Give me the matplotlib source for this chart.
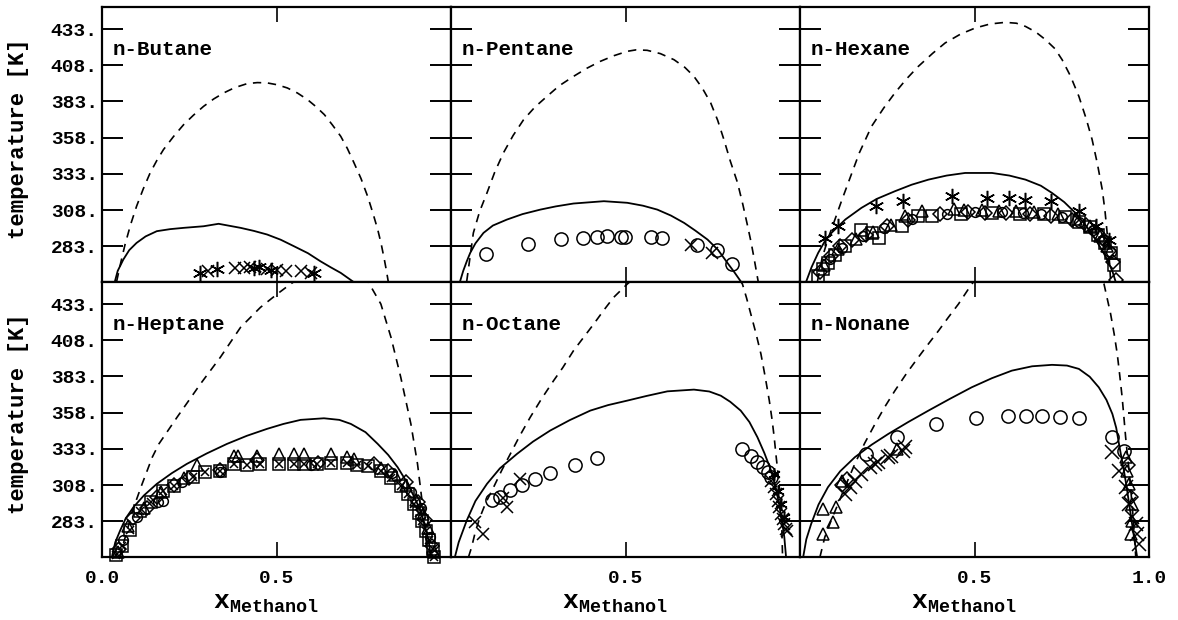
import matplotlib
matplotlib.use('Agg')
import matplotlib.pyplot as plt

plt.rcParams['font.family'] = ['Liberation Mono', 'DejaVu Sans']
plt.rcParams['font.weight'] = 'bold'
plt.rcParams['mathtext.fontset'] = 'custom'
plt.rcParams['mathtext.rm'] = 'Liberation Mono:bold'
plt.rcParams['mathtext.bf'] = 'Liberation Mono:bold'
plt.rcParams['mathtext.it'] = 'Liberation Mono:bold'

# ---------------------------------------------------------------- data
names = ['n-Butane', 'n-Pentane', 'n-Hexane', 'n-Heptane', 'n-Octane', 'n-Nonane']
yticks = [283, 308, 333, 358, 383, 408, 433]

# n-Butane
but_solid_x = [0.037, 0.045, 0.061, 0.078, 0.099, 0.125, 0.157, 0.195, 0.234, 0.291, 0.334, 0.397,
               0.435, 0.473, 0.512, 0.550, 0.590, 0.626, 0.655, 0.684, 0.718]
but_solid_T = [258.8, 266.0, 273.8, 280.3, 285.3, 289.8, 293.4, 294.8, 295.7, 296.8, 298.5, 295.7,
               293.6, 291.1, 287.5, 283.0, 278.2, 272.6, 268.5, 264.6, 258.8]
but_dash_x = [0.042, 0.054, 0.066, 0.082, 0.099, 0.118, 0.138, 0.157, 0.176, 0.205, 0.234, 0.262,
              0.291, 0.320, 0.349, 0.380, 0.416, 0.445, 0.473, 0.502, 0.531, 0.560, 0.589, 0.613,
              0.637, 0.660, 0.684, 0.703, 0.722, 0.742, 0.761, 0.776, 0.790, 0.800, 0.809, 0.815, 0.820]
but_dash_T = [258.8, 272.0, 284.2, 298.0, 310.6, 322.5, 333.7, 342.2, 349.7, 358.8, 367.0, 373.5,
              379.6, 384.7, 388.9, 392.5, 395.3, 396.0, 395.8, 394.5, 392.3, 388.8, 384.2, 379.4,
              373.9, 366.8, 358.9, 350.5, 340.6, 329.8, 317.5, 306.0, 294.5, 284.5, 273.8, 266.0, 258.8]
but_star_x = [0.282, 0.330, 0.435, 0.449, 0.483, 0.607]
but_star_T = [264.6, 267.4, 268.1, 268.5, 266.4, 264.2]
but_x_x = [0.305, 0.382, 0.406, 0.425, 0.473, 0.502, 0.526, 0.569, 0.598]
but_x_T = [265.8, 268.1, 268.1, 268.5, 267.4, 266.4, 265.8, 265.8, 264.6]

# n-Pentane
pen_solid_x = [0.026, 0.035, 0.045, 0.055, 0.070, 0.093, 0.120, 0.160, 0.205, 0.256, 0.300, 0.351,
               0.438, 0.505, 0.550, 0.591, 0.630, 0.668, 0.700, 0.735, 0.765, 0.792, 0.812, 0.830]
pen_solid_T = [258.8, 266.0, 272.5, 278.4, 285.0, 292.2, 297.3, 301.4, 305.2, 308.3, 310.5, 312.5,
               314.1, 313.0, 311.0, 308.3, 304.2, 299.1, 293.8, 287.6, 280.5, 271.5, 265.0, 258.8]
pen_dash_x = [0.045, 0.064, 0.082, 0.103, 0.125, 0.150, 0.178, 0.208, 0.240, 0.275, 0.310, 0.351,
              0.390, 0.428, 0.467, 0.505, 0.530, 0.562, 0.600, 0.639, 0.670, 0.696, 0.720, 0.744,
              0.764, 0.782, 0.800, 0.821, 0.836, 0.850, 0.860, 0.869, 0.880]
pen_dash_T = [258.8, 292.2, 307.0, 319.8, 334.0, 347.4, 359.5, 370.4, 379.0, 386.5, 393.8, 400.3,
              406.0, 410.7, 414.6, 417.6, 418.6, 418.3, 416.0, 411.8, 406.5, 400.3, 392.2, 382.0,
              370.0, 356.6, 342.0, 326.8, 312.0, 296.8, 285.5, 273.8, 258.8]
pen_circ_x = [0.100, 0.220, 0.316, 0.378, 0.419, 0.447, 0.486, 0.498, 0.572, 0.605, 0.706, 0.761, 0.805]
pen_circ_T = [277.7, 284.6, 288.3, 288.8, 289.2, 289.9, 289.5, 289.5, 289.2, 288.8, 284.2, 280.7, 270.4]
pen_x_x = [0.687, 0.749]
pen_x_T = [284.2, 278.4]

# n-Hexane
hex_solid_x = [0.018, 0.033, 0.052, 0.070, 0.090, 0.130, 0.176, 0.220, 0.272, 0.320, 0.368, 0.420,
               0.473, 0.550, 0.600, 0.646, 0.690, 0.722, 0.757, 0.789, 0.820, 0.847, 0.868, 0.885,
               0.896, 0.904]
hex_solid_T = [258.8, 268.5, 278.4, 286.0, 292.2, 301.5, 309.5, 315.7, 321.0, 325.5, 329.0, 331.8,
               333.6, 333.6, 331.8, 329.0, 324.8, 319.8, 313.5, 306.0, 297.0, 287.6, 279.2, 271.5,
               265.0, 258.8]
hex_dash_x = [0.050, 0.056, 0.063, 0.080, 0.100, 0.120, 0.140, 0.170, 0.205, 0.240, 0.272, 0.305,
              0.339, 0.380, 0.416, 0.460, 0.502, 0.545, 0.588, 0.620, 0.646, 0.675, 0.703, 0.730,
              0.751, 0.775, 0.799, 0.820, 0.837, 0.852, 0.866, 0.874, 0.880, 0.886, 0.890]
hex_dash_T = [258.8, 266.0, 274.5, 288.0, 301.4, 315.0, 328.0, 347.5, 365.8, 378.5, 388.9, 398.5,
              407.2, 416.2, 423.4, 429.5, 433.7, 436.5, 437.6, 437.0, 434.8, 431.0, 425.7, 419.5,
              411.8, 400.5, 386.5, 371.0, 356.6, 340.0, 322.1, 307.0, 292.2, 275.0, 258.8]
hex_star_x = [0.071, 0.109, 0.219, 0.296, 0.435, 0.535, 0.598, 0.646, 0.718, 0.799, 0.847, 0.885]
hex_star_T = [288.8, 296.8, 310.6, 314.1, 317.5, 316.4, 316.4, 315.2, 314.1, 307.2, 296.8, 287.6]
hex_sq_x = [0.052, 0.066, 0.080, 0.100, 0.128, 0.176, 0.205, 0.225, 0.291, 0.339, 0.377, 0.460,
            0.550, 0.630, 0.700, 0.760, 0.800, 0.830, 0.855, 0.875, 0.890, 0.900]
hex_sq_T = [262.3, 267.0, 271.5, 277.0, 283.0, 294.5, 292.0, 289.0, 296.8, 303.7, 303.7, 305.5,
            306.0, 305.5, 305.0, 303.0, 300.0, 296.0, 291.0, 285.0, 278.0, 270.0]
hex_dia_x = [0.058, 0.090, 0.114, 0.150, 0.190, 0.250, 0.310, 0.400, 0.480, 0.530, 0.590, 0.660,
             0.720, 0.780, 0.820, 0.850, 0.870, 0.885, 0.897, 0.904]
hex_dia_T = [265.0, 276.0, 283.0, 287.0, 291.0, 297.0, 301.0, 305.0, 306.5, 306.0, 306.0, 305.0,
             304.0, 301.0, 297.5, 292.0, 287.0, 280.0, 272.0, 260.0]
hex_tri_x = [0.070, 0.110, 0.160, 0.210, 0.260, 0.300, 0.350, 0.440, 0.470, 0.520, 0.570, 0.620,
             0.670, 0.740, 0.790, 0.830, 0.860, 0.880]
hex_tri_T = [270.0, 281.0, 288.0, 293.0, 298.0, 304.0, 307.0, 308.5, 308.0, 308.0, 307.5, 307.0,
             306.5, 305.0, 302.0, 297.0, 290.0, 283.0]
hex_circ_x = [0.085, 0.120, 0.180, 0.240, 0.320, 0.420, 0.500, 0.580, 0.640, 0.690, 0.750, 0.800,
              0.840, 0.870, 0.890]
hex_circ_T = [274.0, 282.0, 290.0, 295.5, 302.0, 305.5, 306.5, 306.5, 306.0, 305.0, 303.0, 300.0,
              294.0, 287.0, 279.0]

# n-Heptane
hep_solid_x = [0.028, 0.038, 0.052, 0.068, 0.090, 0.120, 0.157, 0.200, 0.243, 0.300, 0.358, 0.415,
               0.473, 0.520, 0.569, 0.636, 0.680, 0.713, 0.755, 0.790, 0.820, 0.847, 0.872, 0.895,
               0.912, 0.924, 0.935, 0.943]
hep_solid_T = [258.0, 268.5, 276.6, 285.0, 292.7, 300.8, 308.8, 316.2, 322.6, 329.8, 336.4, 342.0,
               346.8, 350.2, 353.0, 354.1, 353.0, 350.2, 344.5, 336.4, 328.8, 320.3, 310.5, 299.6,
               290.5, 281.2, 270.5, 258.0]
hep_dash_x = [0.050, 0.060, 0.070, 0.091, 0.115, 0.144, 0.163, 0.215, 0.282, 0.339, 0.397, 0.454,
              0.502, 0.540, 0.580, 0.640, 0.700, 0.735, 0.761, 0.799, 0.828, 0.856, 0.885, 0.904,
              0.918, 0.928, 0.933]
hep_dash_T = [258.0, 266.5, 275.0, 292.7, 308.8, 327.2, 336.4, 354.8, 377.8, 396.2, 416.9, 430.7,
              439.9, 446.8, 453.0, 456.0, 455.0, 452.5, 449.0, 433.0, 410.0, 382.4, 350.2, 322.6,
              295.0, 272.0, 258.0]
hep_sq_x = [0.040, 0.057, 0.080, 0.109, 0.140, 0.176, 0.205, 0.262, 0.296, 0.339, 0.377, 0.416,
            0.454, 0.507, 0.550, 0.580, 0.617, 0.655, 0.703, 0.732, 0.761, 0.799, 0.828, 0.856,
            0.876, 0.895, 0.909, 0.918, 0.928, 0.937, 0.947, 0.951]
hep_sq_T = [259.5, 266.0, 277.0, 290.4, 296.0, 304.2, 307.5, 313.5, 316.8, 318.0, 322.6, 321.5,
            322.6, 322.6, 322.6, 322.6, 322.6, 323.5, 323.0, 322.0, 321.0, 318.0, 313.0, 307.0,
            301.5, 295.0, 289.0, 283.0, 276.0, 270.0, 263.5, 258.5]
hep_tri_x = [0.045, 0.075, 0.120, 0.170, 0.235, 0.272, 0.377, 0.391, 0.444, 0.507, 0.550, 0.579,
             0.655, 0.703, 0.722, 0.800, 0.840, 0.870, 0.900, 0.920, 0.935, 0.950]
hep_tri_T = [262.0, 280.0, 292.0, 303.0, 313.0, 321.5, 328.3, 328.3, 328.3, 329.5, 329.5, 329.5,
             329.5, 327.2, 326.1, 320.0, 315.0, 308.0, 298.0, 288.0, 278.0, 262.0]
hep_dia_x = [0.050, 0.090, 0.128, 0.157, 0.205, 0.250, 0.339, 0.444, 0.620, 0.780, 0.820, 0.870, 0.905, 0.925, 0.945]
hep_dia_T = [264.0, 285.0, 292.0, 299.6, 308.0, 313.0, 318.5, 325.5, 323.5, 322.6, 318.0, 310.0, 296.0, 284.0, 266.0]
hep_circ_x = [0.060, 0.100, 0.160, 0.176, 0.230, 0.339, 0.600, 0.830, 0.885, 0.915, 0.940]
hep_circ_T = [270.0, 286.0, 296.0, 297.3, 310.0, 317.0, 322.0, 316.0, 303.0, 292.0, 272.0]

# n-Octane
oct_solid_x = [0.011, 0.022, 0.045, 0.070, 0.103, 0.140, 0.189, 0.235, 0.284, 0.340, 0.399, 0.450,
               0.505, 0.560, 0.620, 0.696, 0.740, 0.773, 0.800, 0.830, 0.855, 0.878, 0.898, 0.917,
               0.930, 0.940, 0.948, 0.955, 0.960]
oct_solid_T = [258.2, 268.5, 283.5, 297.0, 308.8, 319.5, 329.5, 338.0, 345.6, 352.8, 359.4, 363.2,
               366.3, 369.5, 372.7, 373.9, 372.6, 369.7, 365.5, 359.4, 351.5, 341.0, 330.0, 318.0,
               306.5, 295.0, 283.5, 272.0, 258.2]
oct_dash_x = [0.050, 0.059, 0.070, 0.083, 0.100, 0.122, 0.145, 0.170, 0.197, 0.227, 0.260, 0.294,
              0.320, 0.351, 0.380, 0.409, 0.437, 0.466, 0.505, 0.560, 0.650, 0.700, 0.780, 0.810,
              0.835, 0.847, 0.859, 0.874, 0.888, 0.900, 0.912, 0.920, 0.926, 0.931, 0.936, 0.941,
              0.945, 0.948, 0.950]
oct_dash_T = [258.2, 265.1, 276.0, 285.8, 296.0, 306.5, 318.0, 329.5, 342.0, 354.8, 367.8, 380.1,
              389.0, 400.8, 410.0, 419.2, 428.5, 437.6, 446.8, 458.0, 468.0, 469.0, 462.0, 455.5,
              446.8, 437.0, 426.1, 412.5, 398.5, 383.0, 366.3, 353.0, 341.0, 329.0, 318.0, 306.0,
              295.0, 277.0, 258.2]
oct_circ_x = [0.117, 0.141, 0.170, 0.203, 0.241, 0.284, 0.356, 0.419, 0.835, 0.859, 0.878, 0.893,
              0.907, 0.917]
oct_circ_T = [297.7, 300.0, 304.5, 308.0, 312.3, 316.0, 322.0, 326.5, 333.0, 328.3, 323.7, 320.3,
              316.8, 313.4]
oct_x_x = [0.069, 0.093, 0.150, 0.160, 0.198, 0.917, 0.926, 0.931, 0.936, 0.940, 0.945, 0.950,
           0.955, 0.960, 0.963]
oct_x_T = [282.3, 274.3, 299.0, 292.7, 312.0, 311.1, 306.5, 301.9, 297.3, 292.7, 288.1, 284.7,
           281.2, 277.8, 276.6]
oct_star_x = [0.926, 0.936, 0.945, 0.955]
oct_star_T = [315.7, 304.0, 295.0, 286.0]

# n-Nonane
non_solid_x = [0.009, 0.018, 0.032, 0.053, 0.080, 0.115, 0.157, 0.205, 0.253, 0.310, 0.368, 0.430,
               0.492, 0.550, 0.607, 0.665, 0.722, 0.765, 0.799, 0.830, 0.856, 0.878, 0.895, 0.906,
               0.914, 0.921, 0.928, 0.936, 0.943, 0.950, 0.957, 0.966]
non_solid_T = [258.2, 270.5, 281.2, 294.5, 306.5, 317.5, 327.2, 335.8, 343.3, 351.5, 359.4, 367.6,
               375.5, 381.8, 387.0, 390.0, 391.0, 390.5, 388.2, 382.8, 375.5, 366.8, 357.1, 347.5,
               336.4, 327.0, 318.0, 306.5, 295.0, 283.5, 272.0, 258.2]
non_dash_x = [0.057, 0.071, 0.090, 0.109, 0.133, 0.157, 0.185, 0.215, 0.243, 0.272, 0.305, 0.339,
              0.368, 0.397, 0.425, 0.454, 0.492, 0.550, 0.650, 0.750, 0.820, 0.871, 0.880, 0.890,
              0.900, 0.909, 0.916, 0.923, 0.928, 0.933, 0.938, 0.943, 0.948, 0.953, 0.958, 0.962]
non_dash_T = [258.2, 272.0, 284.0, 295.0, 309.0, 322.6, 336.8, 350.2, 362.0, 373.2, 385.0, 396.2,
              405.5, 414.6, 423.8, 433.0, 446.8, 462.0, 476.0, 476.0, 464.0, 446.8, 437.0, 426.1,
              412.5, 398.5, 384.0, 368.6, 355.0, 341.0, 329.0, 318.0, 304.0, 290.0, 274.0, 258.2]
non_circ_x = [0.188, 0.277, 0.389, 0.504, 0.596, 0.647, 0.693, 0.746, 0.799, 0.895, 0.928]
non_circ_T = [329.5, 341.0, 350.2, 354.4, 355.5, 355.9, 355.5, 354.8, 354.1, 341.5, 331.8]
non_tri_x = [0.066, 0.095, 0.066, 0.104, 0.119, 0.277, 0.947, 0.952, 0.952, 0.943, 0.938, 0.933]
non_tri_T = [274.3, 282.3, 291.6, 292.7, 311.1, 333.0, 274.3, 283.5, 295.0, 308.8, 318.0, 327.2]
non_x_x = [0.128, 0.143, 0.157, 0.176, 0.200, 0.215, 0.224, 0.253, 0.262, 0.296, 0.301, 0.895,
           0.914, 0.933, 0.943, 0.952, 0.962, 0.966, 0.971]
non_x_T = [301.9, 306.5, 311.1, 315.7, 320.3, 322.6, 323.7, 327.2, 328.3, 331.8, 334.1, 330.6,
           318.0, 306.5, 295.0, 285.8, 281.2, 274.3, 267.4]
non_sq_x = [0.120, 0.135, 0.940, 0.948]
non_sq_T = [308.0, 312.0, 322.0, 300.0]

# ---------------------------------------------------------------- plotting
STAR = (6, 2, 0)
panels = [
    (but_solid_x, but_solid_T, but_dash_x, but_dash_T,
     [(but_star_x, but_star_T, STAR, 11), (but_x_x, but_x_T, 'x', 9)]),
    (pen_solid_x, pen_solid_T, pen_dash_x, pen_dash_T,
     [(pen_circ_x, pen_circ_T, 'o', 9.5), (pen_x_x, pen_x_T, 'x', 9)]),
    (hex_solid_x, hex_solid_T, hex_dash_x, hex_dash_T,
     [(hex_sq_x, hex_sq_T, 's', 8), (hex_dia_x, hex_dia_T, 'D', 7), (hex_tri_x, hex_tri_T, '^', 8),
      (hex_circ_x, hex_circ_T, 'o', 7), (hex_star_x, hex_star_T, STAR, 11)]),
    (hep_solid_x, hep_solid_T, hep_dash_x, hep_dash_T,
     [(hep_sq_x, hep_sq_T, 's', 8), (hep_sq_x, hep_sq_T, 'x', 6), (hep_dia_x, hep_dia_T, 'D', 7),
      (hep_tri_x, hep_tri_T, '^', 9), (hep_circ_x, hep_circ_T, 'o', 7)]),
    (oct_solid_x, oct_solid_T, oct_dash_x, oct_dash_T,
     [(oct_circ_x, oct_circ_T, 'o', 9.5), (oct_x_x, oct_x_T, 'x', 9), (oct_star_x, oct_star_T, STAR, 9)]),
    (non_solid_x, non_solid_T, non_dash_x, non_dash_T,
     [(non_circ_x, non_circ_T, 'o', 9.5), (non_tri_x, non_tri_T, '^', 9), (non_x_x, non_x_T, 'x', 10),
      (non_sq_x, non_sq_T, 'D', 7)]),
]

fig, axes = plt.subplots(2, 3, figsize=(11.78, 6.2), dpi=100)
fig.subplots_adjust(left=0.0866, right=0.9754, top=0.9887, bottom=0.1016, wspace=0, hspace=0)

for i, ax in enumerate(axes.flat):
    sx, sT, dx, dT, marks = panels[i]
    ax.plot(sx, sT, color='black', lw=1.3, solid_joinstyle='round')
    ax.plot(dx, dT, color='black', lw=1.2, dashes=(5, 4))
    for mx, mT, m, ms in marks:
        ax.plot(mx, mT, ls='none', marker=m, ms=ms, mfc='none', mec='black', mew=1.1, clip_on=False)

    ax.set_xlim(0, 1)
    ax.set_ylim(258.3, 448.2)
    ax.text(0.03, 0.825, names[i], transform=ax.transAxes, fontsize=15, fontweight='bold', va='baseline')

    for s in ax.spines.values():
        s.set_linewidth(1.6)
    ax.set_yticks(yticks)
    ax.set_xticks([0.0, 0.5, 1.0])
    ax.tick_params(axis='y', direction='in', length=15, width=1.4, left=True, right=True, labelsize=14, pad=3)
    ax.tick_params(axis='x', direction='in', length=11, width=1.2, top=True, bottom=True, labelsize=14, pad=9)

    col = i % 3
    row = i // 3
    if col == 0:
        ax.set_yticklabels([str(t) + '.' for t in yticks])
    else:
        ax.set_yticklabels([])
    if row == 1:
        if col == 0:
            ax.set_xticklabels(['0.0', '0.5', ''])
        elif col == 1:
            ax.set_xticklabels(['', '0.5', ''])
        else:
            ax.set_xticklabels(['', '0.5', '1.0'])
        pos = ax.get_position()
        fig.text(pos.x0 + pos.width / 2 - 0.009, 0.027, r'$\mathrm{x}_{\mathrm{Methanol}}$',
                 fontsize=19, ha='center', va='center')
    else:
        ax.set_xticklabels([])
    if col == 0:
        pos = ax.get_position()
        fig.text(0.0155, pos.y0 + pos.height / 2 + 0.01, 'temperature [K]', rotation=90,
                 fontsize=16, fontweight='bold', ha='center', va='center')

plt.savefig('out.png', dpi=100)
